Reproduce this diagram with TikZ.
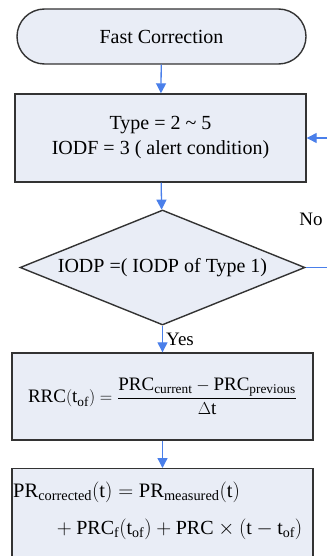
\documentclass[tikz,border=0pt]{standalone}
\usepackage{fontspec}
\setmainfont{Liberation Serif}
\usepackage{amsmath}
\usetikzlibrary{shapes.geometric,arrows.meta}
\definecolor{boxfill}{HTML}{E9EDF6}
\definecolor{boxline}{HTML}{333333}
\definecolor{flow}{HTML}{4A7FEA}
\tikzset{
  stepbox/.style={draw=boxline, line width=1.4pt, fill=boxfill, inner sep=0pt, font=\fontsize{20}{25}\selectfont},
  flowarrow/.style={draw=flow, line width=1.3pt, -{Triangle[length=10pt,width=10pt]}},
  flowline/.style={draw=flow, line width=1.3pt},
  lbl/.style={font=\fontsize{19}{22}\selectfont, inner sep=0pt}
}
\begin{document}
\begin{tikzpicture}[x=1pt,y=-1pt]
\useasboundingbox (0,0) rectangle (327,556);
\clip (0,0) rectangle (327,556);
\node[stepbox, rounded corners=27.5pt, minimum width=289pt, minimum height=55pt] (start) at (161.5,36.5) {Fast Correction};
\node[stepbox, minimum width=291pt, minimum height=88pt, align=center] (type) at (160.5,138) {Type = 2 \textasciitilde{} 5\\ IODF = 3 ( alert condition)};
\node[stepbox, diamond, aspect=2.48, minimum width=285pt, minimum height=115pt] (iodp) at (162.5,267.5) {IODP =( IODP of Type 1)};
\node[stepbox, minimum width=301pt, minimum height=87pt, font=\fontsize{19}{23}\selectfont] (rrc) at (162.5,396.5) {$\mathrm{RRC}(\mathrm{t_{of}}) = \dfrac{\mathrm{PRC_{current}} - \mathrm{PRC_{previous}}}{\Delta \mathrm{t}}$};
\node[stepbox, minimum width=301pt, minimum height=96pt, anchor=north] (prc) at (162.5,468) {};
\node[inner sep=0pt, anchor=west, font=\fontsize{20.5}{25}\selectfont] (formula1) at (13,492)
 {$\mathrm{PR_{corrected}(t) = PR_{measured}(t)}$};
\node[inner sep=0pt, anchor=west, font=\fontsize{20}{25}\selectfont] (formula2) at (52,529)
 {$\mathrm{{}+ PRC_{f}(t_{of}) + PRC \times (t - t_{of})}$};
\coordinate (inR) at (327,138);
\coordinate (noR) at (327,267.5);
\draw[flowarrow] (start) -- (type);
\draw[flowarrow] (type) -- (iodp);
\draw[flowarrow] (iodp) -- (rrc);
\draw[flowarrow] (rrc) -- (prc);
\draw[flowarrow] (inR) -- (type.east);
\draw[flowline] (iodp.east) -- (noR);
\node[lbl] (no) at (311,219) {No};
\node[lbl, anchor=west] (yes) at (166,339) {Yes};
\end{tikzpicture}
\end{document}
